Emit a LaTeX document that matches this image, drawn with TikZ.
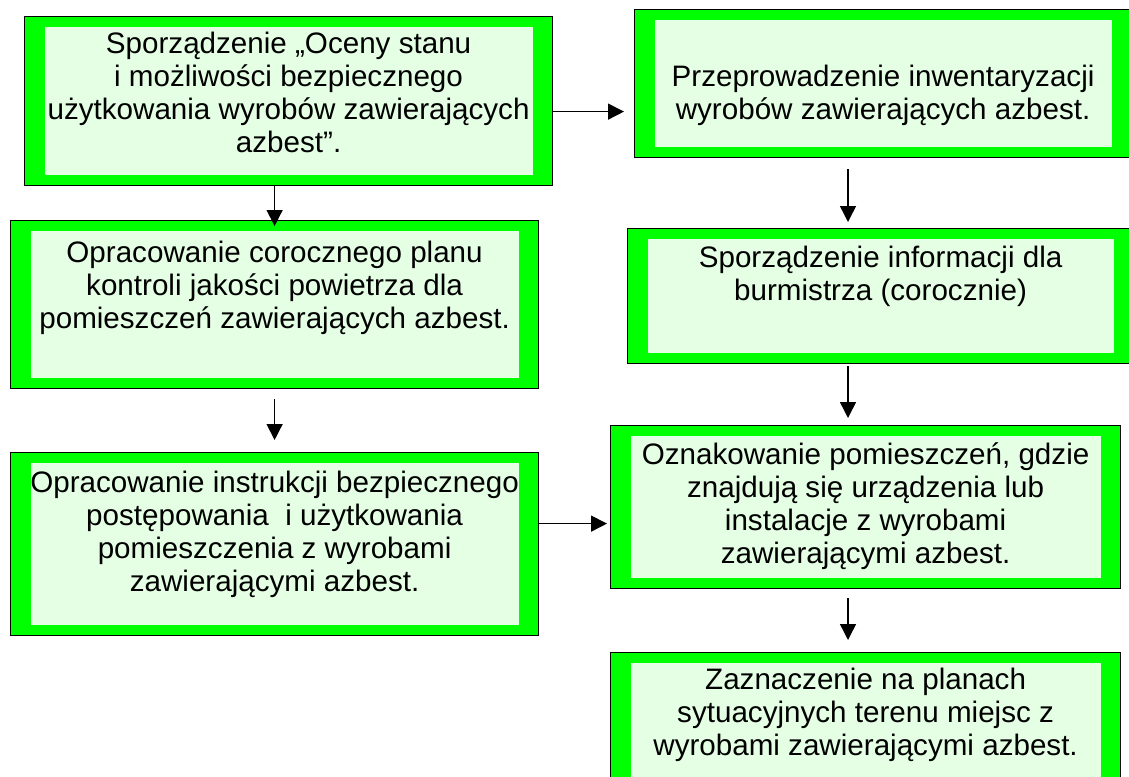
\documentclass[tikz,border=0pt]{standalone}
\usepackage{fontspec}
\setmainfont{Liberation Sans}
\usetikzlibrary{arrows.meta}

\definecolor{framegreen}{HTML}{00FF00}
\definecolor{panelgreen}{HTML}{E4FFE4}

% fixed-size text area, text hung from the top
\newcommand{\stagetext}[4]{\parbox[c][#2][t]{#1}{\vspace*{#3}\centering\strut #4\par}}

\begin{document}
\begin{tikzpicture}[
    x=1pt, y=-1pt,
    stage/.style={draw=black, line width=1.2pt, fill=framegreen, inner sep=0pt, anchor=north west,
      font=\fontsize{29.6}{33}\selectfont,
      path picture={\fill[panelgreen] ([shift={(20pt,-10.5pt)}]path picture bounding box.north west)
        rectangle ([shift={(-20pt,10.5pt)}]path picture bounding box.south east);}},
    arr/.style={-{Triangle[length=16pt, width=16pt]}, line width=1.5pt},
  ]
    \useasboundingbox (0,0) rectangle (1129,776);

    % Left column
    \node[stage] (ocena) at (24,16) {\stagetext{528pt}{169pt}{14pt}{Sporządzenie „Oceny stanu\\ i możliwości bezpiecznego\\ użytkowania wyrobów zawierających\\ azbest”.}};
    \node[stage] (plan) at (10,220) {\stagetext{528pt}{168pt}{19pt}{Opracowanie corocznego planu\\ kontroli jakości powietrza dla\\ pomieszczeń zawierających azbest.}};
    \node[stage] (instr) at (10,452) {\stagetext{528pt}{183pt}{17pt}{Opracowanie instrukcji bezpiecznego\\ postępowania\ \ i użytkowania\\ pomieszczenia z wyrobami\\ zawierającymi azbest.}};

    % Right column
    \node[stage] (inw) at (634,9) {\stagetext{497pt}{148pt}{54pt}{Przeprowadzenie inwentaryzacji\\ wyrobów zawierających azbest.}};
    \node[stage] (info) at (627,228) {\stagetext{506pt}{135pt}{16pt}{Sporządzenie informacji dla\\ burmistrza (corocznie)}};
    \node[stage] (oznak) at (610,425) {\stagetext{510pt}{163pt}{16pt}{Oznakowanie pomieszczeń, gdzie\\ znajdują się urządzenia lub\\ instalacje z wyrobami\\ zawierającymi azbest.}};
    \node[stage] (plany) at (610,652) {\stagetext{510pt}{140pt}{14pt}{Zaznaczenie na planach\\ sytuacyjnych terenu miejsc z\\ wyrobami zawierającymi azbest.}};

    \coordinate (rcol) at (848,0);

    % Arrows
    \draw[arr, shorten >=10pt] ([yshift=-10.5pt]ocena.east) -- ([yshift=-10.5pt]ocena.east -| inw.west);
    \draw[arr, shorten >=-6pt] (plan.north |- ocena.south) -- (plan.north);
    \draw[arr, shorten <=10pt, shorten >=12pt] (plan.south) -- (instr.north);
    \draw[arr, shorten >=3pt] ([yshift=20.5pt]instr.east) -- ([yshift=20.5pt]instr.east -| oznak.west);
    \draw[arr, shorten <=11pt, shorten >=6pt] (rcol |- inw.south) -- (rcol |- info.north);
    \draw[arr, shorten <=2pt, shorten >=7pt] (rcol |- info.south) -- (rcol |- oznak.north);
    \draw[arr, shorten <=9pt, shorten >=12pt] (rcol |- oznak.south) -- (rcol |- plany.north);
  \end{tikzpicture}
\end{document}
